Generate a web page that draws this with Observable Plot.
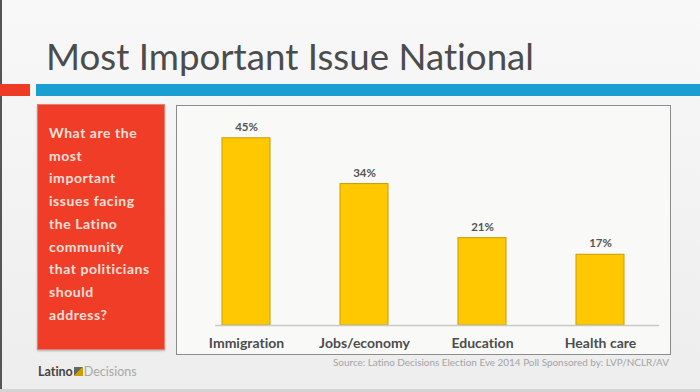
<!DOCTYPE html>
<html><head><meta charset="utf-8">
<script src="https://cdn.jsdelivr.net/npm/d3@7"></script>
<script src="https://cdn.jsdelivr.net/npm/@observablehq/plot@0.6"></script>
<style>
html,body{margin:0;padding:0;}
body{width:700px;height:392px;overflow:hidden;}
#page{position:relative;width:700px;height:392px;background:linear-gradient(#f8f8f8,#ededed);font-family:Lato,"Open Sans",sans-serif;overflow:hidden;font-variant-ligatures:none;}
.abs{position:absolute;}
#edge{left:0;top:0;width:2px;height:392px;background:#555;}
#bottomline{left:0;top:389px;width:700px;height:3px;background:#d4d4d4;}
#title{left:46px;top:34px;font-size:36px;color:#4c4c4c;font-weight:400;white-space:nowrap;transform-origin:left center;font-variant-ligatures:none;}
#redtab{left:0;top:84px;width:30px;height:12px;background:#ee3b26;}
#bluebar{left:36px;top:84px;width:664px;height:12px;background:#1b9fd3;}
#question{left:37px;top:104px;width:128px;height:246px;background:#f03d28;box-sizing:border-box;border:1px solid #e0806f;box-shadow:0 1px 2px rgba(0,0,0,0.25);}
#qtext{position:absolute;left:11px;top:17px;color:#fbe0d8;font-weight:700;font-size:14px;line-height:22.7px;letter-spacing:0.55px;white-space:nowrap;}
#chartbox{left:176px;top:105px;width:495px;height:250px;box-sizing:border-box;border:1.5px solid #8c8c8c;background:#f9f9f7;}
#plot{left:176px;top:104px;}
#source{left:333px;top:357px;font-size:9.5px;color:#a3a3a3;white-space:nowrap;transform-origin:left center;}
#logo{left:38px;top:364px;font-size:12.5px;white-space:nowrap;}
#logo .a{color:#444;font-weight:700;}
#logo .b{color:#a8a8a8;}
#logo .m{display:inline-block;width:9px;height:9px;background:linear-gradient(135deg,#666 50%,#c8a000 50%);margin:0 1px;}
</style></head>
<body>
<div id="page">
  <div class="abs" id="edge"></div>
  <div class="abs" id="bottomline"></div>
  <div class="abs" id="title">Most Important Issue National</div>
  <div class="abs" id="redtab"></div>
  <div class="abs" id="bluebar"></div>
  <div class="abs" id="question"><div id="qtext">What are the<br>most<br>important<br>issues facing<br>the Latino<br>community<br>that politicians<br>should<br>address?</div></div>
  <div class="abs" id="chartbox"></div>
  <div class="abs" id="plot"></div>
  <div class="abs" id="source">Source: Latino Decisions Election Eve 2014 Poll Sponsored by: LVP/NCLR/AV</div>
  <div class="abs" id="logo"><span class="a">Latino</span><span class="m"></span><span class="b">Decisions</span></div>
</div>
<script>
const categories = ["Immigration", "Jobs/economy", "Education", "Health care"];
const values = [45, 34, 21, 17];
const valueLabels = ["45%", "34%", "21%", "17%"];

const data = categories.map((c, i) => ({cat: c, val: values[i], label: valueLabels[i]}));

const chart = Plot.plot({
  width: 494,
  height: 250,
  marginLeft: 11,
  marginRight: 11,
  marginTop: 13,
  marginBottom: 29,
  style: {background: "transparent", fontFamily: "Lato, 'Open Sans', sans-serif", overflow: "visible"},
  x: {domain: categories, padding: 0.59, paddingOuter: 0.295, label: null},
  y: {domain: [0, 50], axis: null},
  marks: [
    Plot.barY(data, {x: "cat", y: "val", fill: "#ffc800", stroke: "#c99c00", strokeWidth: 1}),
    Plot.ruleY([0], {stroke: "#c9c9c9", strokeWidth: 1.5, insetLeft: 28}),
    Plot.text(data, {x: "cat", y: "val", text: "label", dy: -11, fontSize: 11.5, fontWeight: 700, fill: "#555"}),
    Plot.axisX({tickSize: 0, tickPadding: 13, fontSize: 14, fontWeight: 700, color: "#4d4d4d", label: null})
  ]
});
document.getElementById("plot").appendChild(chart);

function fit(id, w) {
  const el = document.getElementById(id);
  const cur = el.getBoundingClientRect().width;
  el.style.transform = `scaleX(${w / cur})`;
}
fit("title", 488);
fit("source", 336);
</script>
</body></html>
